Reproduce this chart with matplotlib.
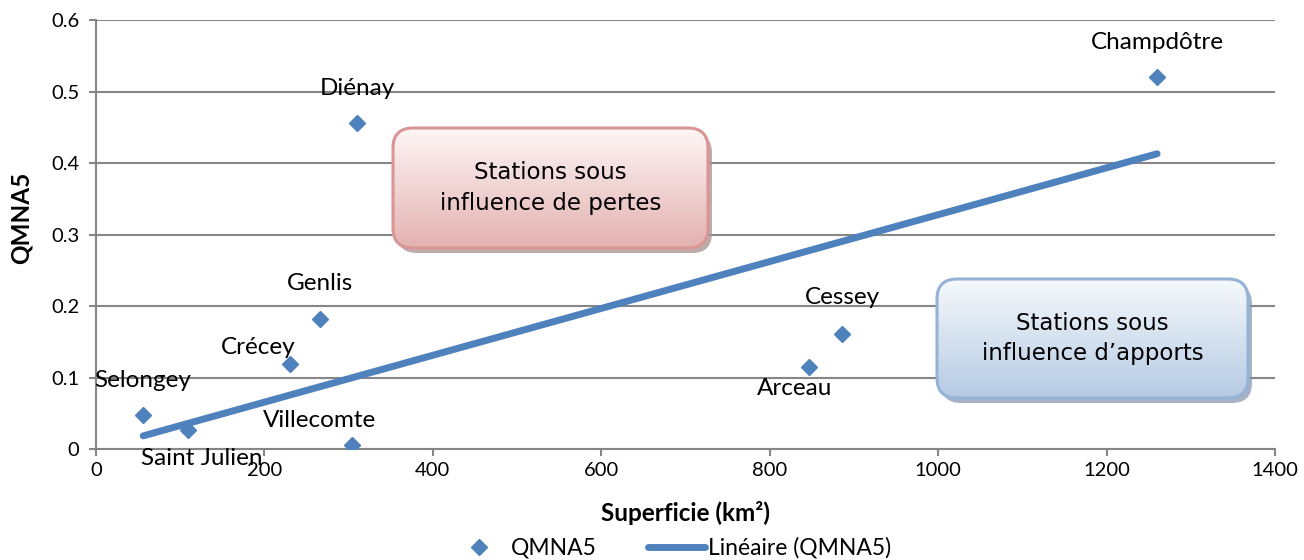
import numpy as np
import matplotlib
matplotlib.use("Agg")
import matplotlib.pyplot as plt
from matplotlib.patches import FancyBboxPatch
from matplotlib.ticker import FuncFormatter

# stations: superficie (km2) and QMNA5
stations = ["Selongey", "Saint Julien", "Crécey", "Genlis", "Villecomte",
            "Diénay", "Arceau", "Cessey", "Champdôtre"]
superficie = [56, 109, 230, 266, 304, 310, 847, 886, 1260]
qmna5 = [0.048, 0.027, 0.119, 0.182, 0.006, 0.456, 0.115, 0.161, 0.520]

# label offsets in pixels (dx, dy)
label_offsets = [(0, 34), (14, -29), (-32, 16), (0, 35), (-32, 24),
                 (0, 34), (-15, -22), (0, 36), (0, 35)]

W, H = 1304, 560
blue = "#4f81bd"
grey = "#868686"

plt.rcParams['font.family'] = ['Lato', 'DejaVu Sans']

fig = plt.figure(figsize=(W / 100, H / 100), dpi=100)
ax = fig.add_axes([96 / W, 1 - 449 / H, (1275 - 96) / W, (449 - 20) / H])

ax.set_xlim(0, 1400)
ax.set_ylim(0, 0.6)
ax.set_xticks(np.arange(0, 1401, 200))
ax.set_yticks(np.arange(0, 0.61, 0.1))
ax.yaxis.set_major_formatter(FuncFormatter(lambda v, p: "%g" % round(v, 1)))
ax.grid(axis="y", color=grey, lw=1.5)
ax.set_axisbelow(True)
for s in ["top", "right"]:
    ax.spines[s].set_visible(False)
for s in ["left", "bottom"]:
    ax.spines[s].set_color(grey)
    ax.spines[s].set_linewidth(1.5)
ax.tick_params(axis="both", direction="out", length=5, width=1.5, color=grey,
               labelsize=14.5)
ax.tick_params(axis="y", pad=7)
ax.tick_params(axis="x", pad=4)

# linear trend, intercept forced to 0 (as in the spreadsheet)
x_arr = np.array(superficie, dtype=float)
y_arr = np.array(qmna5)
slope = (x_arr * y_arr).sum() / (x_arr ** 2).sum()
xs = np.array([x_arr.min(), x_arr.max()])
trend, = ax.plot(xs, slope * xs, color=blue, lw=5, solid_capstyle="round",
                 label="Linéaire (QMNA5)", zorder=3)
pts, = ax.plot(superficie, qmna5, "D", color=blue, ms=8.5, ls="none",
               label="QMNA5", zorder=4)

for name, x, y, off in zip(stations, superficie, qmna5, label_offsets):
    ax.annotate(name, (x, y), xytext=off, textcoords="offset pixels",
                ha="center", va="center", fontsize=17.5, zorder=5)

ax.set_xlabel("Superficie (km²)", fontsize=17.5, fontweight="bold")
ax.xaxis.set_label_coords(0.5, (449 - 501) / 429)
ax.set_ylabel("QMNA5", fontsize=17.5, fontweight="bold")
ax.yaxis.set_label_coords((33 - 96) / 1179, (449 - 218) / 429)

fig.legend(handles=[pts, trend], loc="center", ncol=2, frameon=False,
           bbox_to_anchor=(671 / W, 1 - 548 / H), fontsize=16.5,
           handlelength=2.5, columnspacing=2.2, handletextpad=0.15)


def draw_box(left, top, right, bottom, text, edge, c_top, c_bot, shadow):
    pad = 10
    bax = fig.add_axes([(left - pad) / W, 1 - (bottom + pad) / H,
                        (right - left + 2 * pad) / W, (bottom - top + 2 * pad) / H])
    bw, bh = right - left, bottom - top
    bax.set_xlim(-pad, bw + pad)
    bax.set_ylim(-pad, bh + pad)
    bax.axis("off")
    r = 20
    sh = FancyBboxPatch((4, -5), bw, bh, boxstyle="round,pad=0,rounding_size=%d" % r,
                        fc=shadow, ec="none", alpha=0.75)
    bax.add_patch(sh)
    box = FancyBboxPatch((0, 0), bw, bh, boxstyle="round,pad=0,rounding_size=%d" % r,
                         fc="none", ec=edge, lw=2.2, zorder=3)
    bax.add_patch(box)
    c1 = np.array(matplotlib.colors.to_rgb(c_top))
    c2 = np.array(matplotlib.colors.to_rgb(c_bot))
    t = np.linspace(0, 1, 256)[:, None]
    grad = (c1 * (1 - t) + c2 * t)[:, None, :]
    im = bax.imshow(grad, extent=(0, bw, 0, bh), origin="upper", aspect="auto",
                    zorder=2)
    im.set_clip_path(box)
    bax.text(bw / 2, bh / 2, text, ha="center", va="center", fontsize=16.5,
             family="DejaVu Sans", linespacing=1.4, zorder=4)


draw_box(393, 128, 708, 248, "Stations sous\ninfluence de pertes",
         "#d99694", "#fdf6f6", "#e3b1b0", "#a89090")
draw_box(937, 279, 1248, 398, "Stations sous\ninfluence d\u2019apports",
         "#95b3d7", "#f6f9fc", "#b5cae3", "#8a9ab0")

fig.savefig("out.png", dpi=100)
